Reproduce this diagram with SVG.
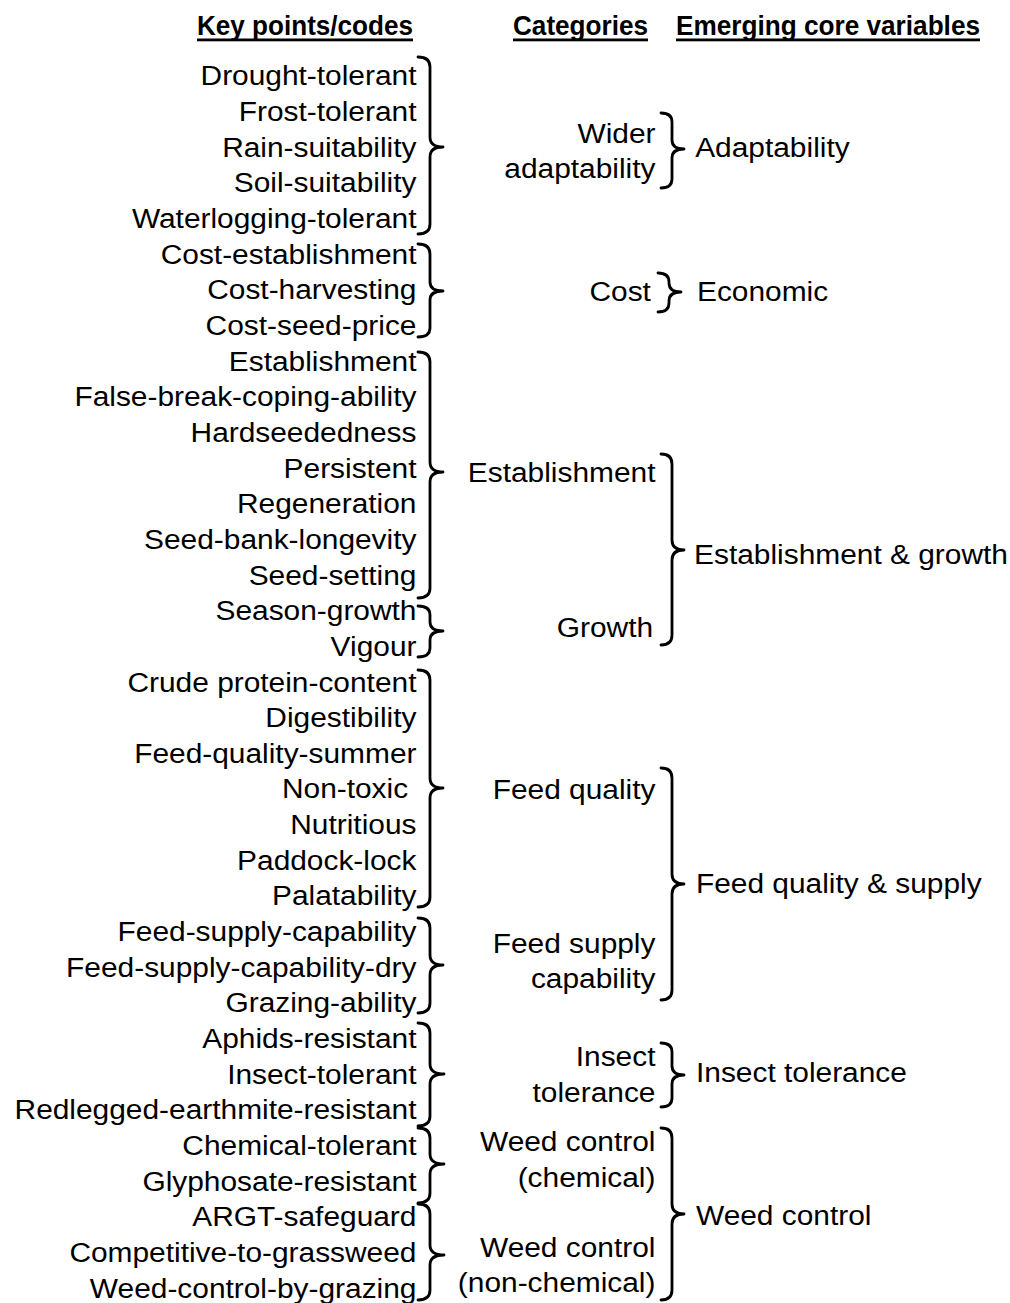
<svg xmlns="http://www.w3.org/2000/svg" width="1010" height="1303" viewBox="0 0 1010 1303">
  <style>
    .t { font-family: "Liberation Sans", Arial, Helvetica, sans-serif; font-size: 27px; fill: #000; }
    .h { font-family: "Liberation Sans Narrow", "Arial Narrow", "Liberation Sans", Arial, sans-serif; font-size: 27px; font-weight: bold; fill: #000; }
    .ul { fill: #000; }
    .br { fill: none; stroke: #000; stroke-width: 2.8; stroke-linecap: round; stroke-linejoin: round; }
    .end { text-anchor: end; }
  </style>
  <rect width="1010" height="1303" fill="#fff"/>

  <!-- column headings -->
  <g id="headings">
    <text class="h" x="197" y="35" textLength="216" lengthAdjust="spacingAndGlyphs">Key points/codes</text>
    <rect class="ul" x="197" y="38.5" width="216" height="2.8"/>
    <text class="h" x="513" y="35" textLength="135" lengthAdjust="spacingAndGlyphs">Categories</text>
    <rect class="ul" x="513" y="38.5" width="135" height="2.8"/>
    <text class="h" x="676" y="35" textLength="304" lengthAdjust="spacingAndGlyphs">Emerging core variables</text>
    <rect class="ul" x="676" y="38.5" width="304" height="2.8"/>
  </g>

  <!-- key points / codes, right aligned (text is horizontally widened) -->
  <g id="codes" transform="scale(1.107 1)">
    <g id="code-adaptability">
      <text class="t end" x="376.2" y="85.5">Drought-tolerant</text>
      <text class="t end" x="376.2" y="121.15">Frost-tolerant</text>
      <text class="t end" x="376.2" y="156.8">Rain-suitability</text>
      <text class="t end" x="376.2" y="192.45">Soil-suitability</text>
      <text class="t end" x="376.2" y="228.1">Waterlogging-tolerant</text>
    </g>
    <g id="code-cost">
      <text class="t end" x="376.2" y="263.75">Cost-establishment</text>
      <text class="t end" x="376.2" y="299.4">Cost-harvesting</text>
      <text class="t end" x="376.2" y="335.05">Cost-seed-price</text>
    </g>
    <g id="code-establishment">
      <text class="t end" x="376.2" y="370.7">Establishment</text>
      <text class="t end" x="376.2" y="406.35">False-break-coping-ability</text>
      <text class="t end" x="376.2" y="442">Hardseededness</text>
      <text class="t end" x="376.2" y="477.65">Persistent</text>
      <text class="t end" x="376.2" y="513.3">Regeneration</text>
      <text class="t end" x="376.2" y="548.95">Seed-bank-longevity</text>
      <text class="t end" x="376.2" y="584.6">Seed-setting</text>
    </g>
    <g id="code-growth">
      <text class="t end" x="376.2" y="620.25">Season-growth</text>
      <text class="t end" x="376.2" y="655.9">Vigour</text>
    </g>
    <g id="code-feed-quality">
      <text class="t end" x="376.2" y="691.55">Crude protein-content</text>
      <text class="t end" x="376.2" y="727.2">Digestibility</text>
      <text class="t end" x="376.2" y="762.85">Feed-quality-summer</text>
      <text class="t end" x="376.2" y="798.5">Non-toxic&#160;</text>
      <text class="t end" x="376.2" y="834.15">Nutritious</text>
      <text class="t end" x="376.2" y="869.8">Paddock-lock</text>
      <text class="t end" x="376.2" y="905.45">Palatability</text>
    </g>
    <g id="code-feed-supply">
      <text class="t end" x="376.2" y="941.1">Feed-supply-capability</text>
      <text class="t end" x="376.2" y="976.75">Feed-supply-capability-dry</text>
      <text class="t end" x="376.2" y="1012.4">Grazing-ability</text>
    </g>
    <g id="code-insect">
      <text class="t end" x="376.2" y="1048.05">Aphids-resistant</text>
      <text class="t end" x="376.2" y="1083.7">Insect-tolerant</text>
      <text class="t end" x="376.2" y="1119.35">Redlegged-earthmite-resistant</text>
    </g>
    <g id="code-weed-chemical">
      <text class="t end" x="376.2" y="1155">Chemical-tolerant</text>
      <text class="t end" x="376.2" y="1190.65">Glyphosate-resistant</text>
    </g>
    <g id="code-weed-nonchemical">
      <text class="t end" x="376.2" y="1226.3">ARGT-safeguard</text>
      <text class="t end" x="376.2" y="1261.95">Competitive-to-grassweed</text>
      <text class="t end" x="376.2" y="1297.6">Weed-control-by-grazing</text>
    </g>
  </g>

  <!-- categories -->
  <g id="categories" transform="scale(1.107 1)">
    <g id="cat-wider-adaptability">
      <text class="t end" x="592.1" y="143.5">Wider</text>
      <text class="t end" x="592.1" y="178.5">adaptability</text>
    </g>
    <g id="cat-cost"><text class="t end" x="588" y="301.5">Cost</text></g>
    <g id="cat-establishment"><text class="t end" x="592.1" y="482.5">Establishment</text></g>
    <g id="cat-growth"><text class="t end" x="590" y="637.5">Growth</text></g>
    <g id="cat-feed-quality"><text class="t end" x="592.1" y="799.5">Feed quality</text></g>
    <g id="cat-feed-supply">
      <text class="t end" x="592.1" y="953.5">Feed supply</text>
      <text class="t end" x="592.1" y="988.5">capability</text>
    </g>
    <g id="cat-insect">
      <text class="t end" x="592.1" y="1066.5">Insect</text>
      <text class="t end" x="592.1" y="1102.5">tolerance</text>
    </g>
    <g id="cat-weed-chemical">
      <text class="t end" x="592.1" y="1151.5">Weed control</text>
      <text class="t end" x="592.1" y="1187.5">(chemical)</text>
    </g>
    <g id="cat-weed-nonchemical">
      <text class="t end" x="592.1" y="1257.5">Weed control</text>
      <text class="t end" x="592.1" y="1292.5">(non-chemical)</text>
    </g>
  </g>

  <!-- emerging core variables -->
  <g id="core" transform="scale(1.107 1)">
    <g id="core-adaptability"><text class="t" x="628" y="157.5">Adaptability</text></g>
    <g id="core-economic"><text class="t" x="629.6" y="301.5">Economic</text></g>
    <g id="core-establishment-growth"><text class="t" x="627" y="564.5">Establishment &amp; growth</text></g>
    <g id="core-feed"><text class="t" x="628.7" y="893.5">Feed quality &amp; supply</text></g>
    <g id="core-insect"><text class="t" x="628.7" y="1082.5">Insect tolerance</text></g>
    <g id="core-weed"><text class="t" x="628.7" y="1225.5">Weed control</text></g>
  </g>

  <!-- grouping braces -->
  <g id="connectors">
    <!-- codes to categories -->
    <path class="br" d="M418,57 Q430,57 430,67 L430,137 Q430,147 443,147 Q430,147 430,157 L430,224 Q430,234 418,234"/>
    <path class="br" d="M418,244 Q430,244 430,254 L430,282 Q430,291 443,291 Q430,291 430,300 L430,328 Q430,337 418,337"/>
    <path class="br" d="M418,352 Q430,352 430,362 L430,462 Q430,472 443,472 Q430,472 430,482 L430,588 Q430,598 418,598"/>
    <path class="br" d="M418,606 Q430,606 430,615 L430,622 Q430,631 443,631 Q430,631 430,640 L430,648 Q430,657 418,657"/>
    <path class="br" d="M418,670 Q430,670 430,680 L430,778 Q430,788 443,788 Q430,788 430,798 L430,897 Q430,907 418,907"/>
    <path class="br" d="M418,918 Q430,918 430,928 L430,955 Q430,965 443,965 Q430,965 430,975 L430,1003 Q430,1013 418,1013"/>
    <path class="br" d="M418,1023 Q430,1023 430,1033 L430,1064 Q430,1074 444,1074 Q430,1074 430,1084 L430,1116 Q430,1126 418,1126"/>
    <path class="br" d="M418,1128 Q430,1128 430,1138 L430,1154 Q430,1164 444,1164 Q430,1164 430,1174 L430,1193 Q430,1203 418,1203"/>
    <path class="br" d="M418,1204 Q430,1204 430,1214 L430,1245 Q430,1255 444,1255 Q430,1255 430,1265 L430,1290 Q430,1300 418,1300"/>
    <!-- categories to core variables -->
    <path class="br" d="M661,113 Q672,113 672,122 L672,140 Q672,149 684,149 Q672,149 672,158 L672,179 Q672,188 661,188"/>
    <path class="br" d="M658,273 Q669,273 669,282 L669,283 Q669,292 681,292 Q669,292 669,301 L669,303 Q669,312 658,312"/>
    <path class="br" d="M661,454 Q672,454 672,464 L672,540 Q672,550 684,550 Q672,550 672,560 L672,635 Q672,645 661,645"/>
    <path class="br" d="M661,768 Q672,768 672,778 L672,874 Q672,884 684,884 Q672,884 672,894 L672,990 Q672,1000 661,1000"/>
    <path class="br" d="M661,1043 Q672,1043 672,1052 L672,1066 Q672,1075 684,1075 Q672,1075 672,1084 L672,1098 Q672,1107 661,1107"/>
    <path class="br" d="M661,1128 Q672,1128 672,1138 L672,1204 Q672,1214 684,1214 Q672,1214 672,1224 L672,1290 Q672,1300 661,1300"/>
  </g>
</svg>
